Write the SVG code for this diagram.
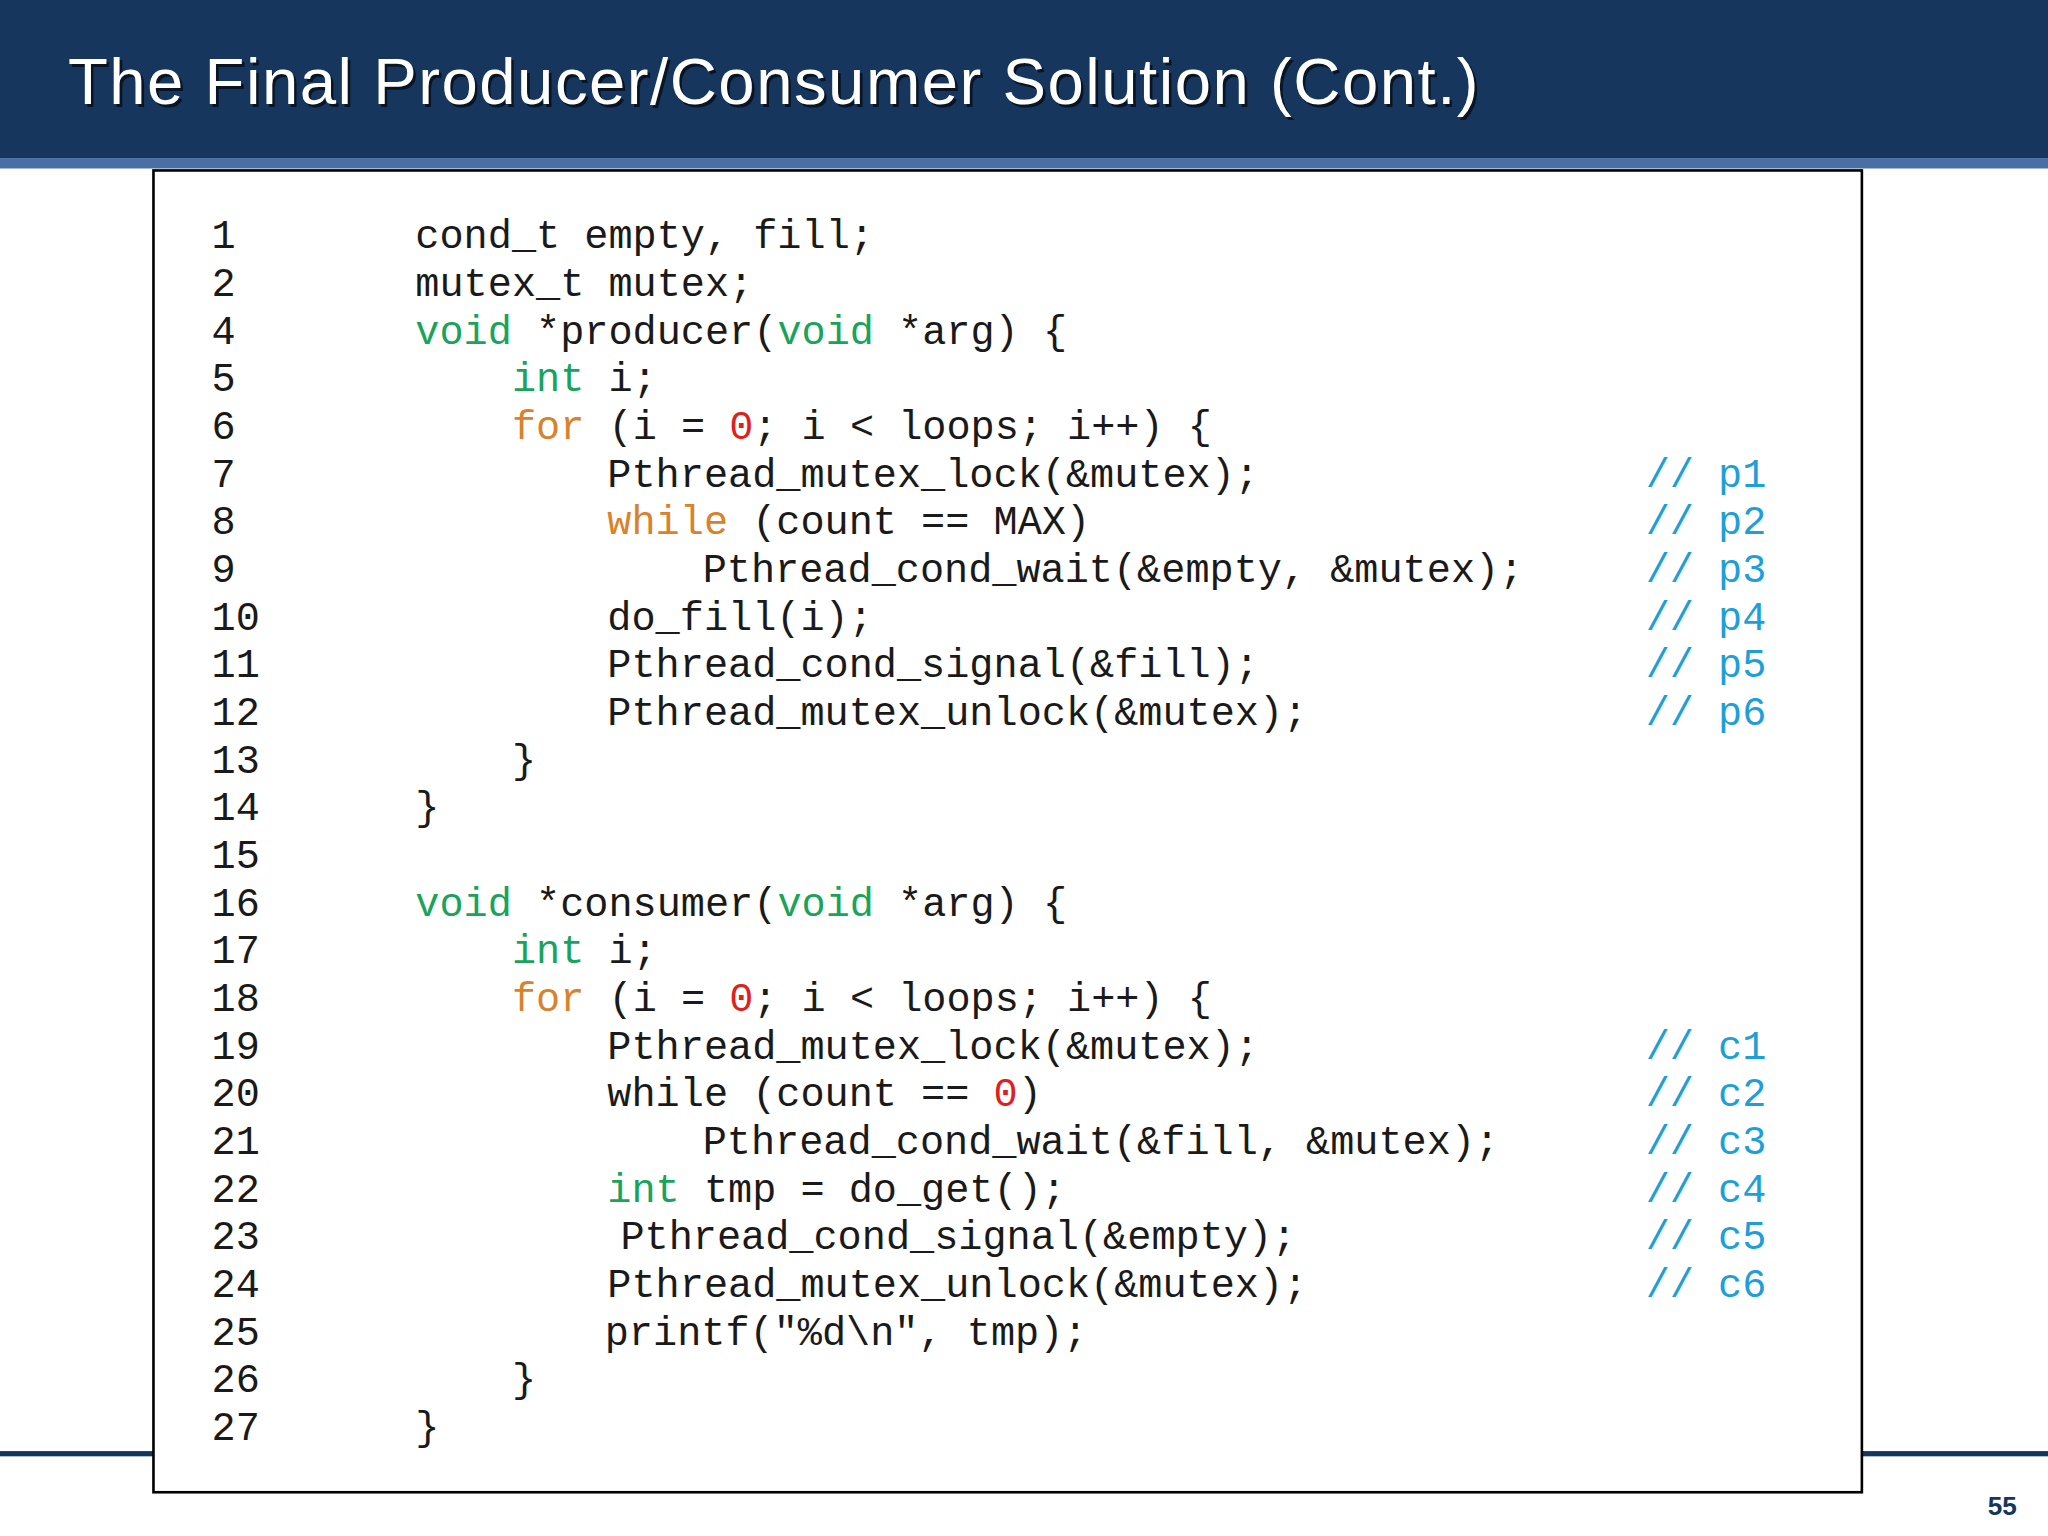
<svg xmlns="http://www.w3.org/2000/svg" width="2048" height="1536" viewBox="0 0 2048 1536">
<style>
.c{font-family:"Liberation Mono","Courier New",monospace;font-size:30.8px;fill:#1a1a1a;white-space:pre}
.k{fill:#1aa35a}.o{fill:#d9822b}.r{fill:#e02020}.m{fill:#1e9fd8}
</style>
<rect width="2048" height="1536" fill="#fff"/>
<g transform="scale(1.306122)">
<g id="header">
<rect x="0" y="0" width="1568" height="121" fill="#17365d"/>
<rect x="0" y="121" width="1568" height="8" fill="#4a6fa5"/>
<text x="54" y="82" font-family="Liberation Sans,Arial,sans-serif" font-size="50" fill="#000" opacity="0.6" textLength="1080">The Final Producer/Consumer Solution (Cont.)</text>
<text x="52" y="80" font-family="Liberation Sans,Arial,sans-serif" font-size="50" fill="#fff" textLength="1080">The Final Producer/Consumer Solution (Cont.)</text>
</g>
<g id="footer">
<rect x="0" y="1111" width="1568" height="4" fill="#17365d"/>
<text x="1533" y="1160" font-family="Liberation Sans,Arial,sans-serif" font-size="20" font-weight="bold" fill="#17365d" text-anchor="middle">55</text>
</g>
<g id="codebox">
<rect x="117.5" y="130.5" width="1308" height="1012" fill="#fff" stroke="#000" stroke-width="2"/>
<g class="c">
<text x="162" y="190">1</text><text x="318" y="190">cond_t empty, fill;</text>
<text x="162" y="226.5">2</text><text x="318" y="226.5">mutex_t mutex;</text>
<text x="162" y="263">4</text><text x="318" y="263"><tspan class="k">void</tspan> *producer(<tspan class="k">void</tspan> *arg) {</text>
<text x="162" y="299.5">5</text><text x="392" y="299.5"><tspan class="k">int</tspan> i;</text>
<text x="162" y="336">6</text><text x="392" y="336"><tspan class="o">for</tspan> (i = <tspan class="r">0</tspan>; i &lt; loops; i++) {</text>
<text x="162" y="372.5">7</text><text x="465" y="372.5">Pthread_mutex_lock(&amp;mutex);</text><text x="1260" y="372.5" class="m">// p1</text>
<text x="162" y="409">8</text><text x="465" y="409"><tspan class="o">while</tspan> (count == MAX)</text><text x="1260" y="409" class="m">// p2</text>
<text x="162" y="445.5">9</text><text x="538" y="445.5">Pthread_cond_wait(&amp;empty, &amp;mutex);</text><text x="1260" y="445.5" class="m">// p3</text>
<text x="162" y="482">10</text><text x="465" y="482">do_fill(i);</text><text x="1260" y="482" class="m">// p4</text>
<text x="162" y="518.5">11</text><text x="465" y="518.5">Pthread_cond_signal(&amp;fill);</text><text x="1260" y="518.5" class="m">// p5</text>
<text x="162" y="555">12</text><text x="465" y="555">Pthread_mutex_unlock(&amp;mutex);</text><text x="1260" y="555" class="m">// p6</text>
<text x="162" y="591.5">13</text><text x="392" y="591.5">}</text>
<text x="162" y="628">14</text><text x="318" y="628">}</text>
<text x="162" y="664.5">15</text>
<text x="162" y="701">16</text><text x="318" y="701"><tspan class="k">void</tspan> *consumer(<tspan class="k">void</tspan> *arg) {</text>
<text x="162" y="737.5">17</text><text x="392" y="737.5"><tspan class="k">int</tspan> i;</text>
<text x="162" y="774">18</text><text x="392" y="774"><tspan class="o">for</tspan> (i = <tspan class="r">0</tspan>; i &lt; loops; i++) {</text>
<text x="162" y="810.5">19</text><text x="465" y="810.5">Pthread_mutex_lock(&amp;mutex);</text><text x="1260" y="810.5" class="m">// c1</text>
<text x="162" y="847">20</text><text x="465" y="847">while (count == <tspan class="r">0</tspan>)</text><text x="1260" y="847" class="m">// c2</text>
<text x="162" y="883.5">21</text><text x="538" y="883.5">Pthread_cond_wait(&amp;fill, &amp;mutex);</text><text x="1260" y="883.5" class="m">// c3</text>
<text x="162" y="920">22</text><text x="465" y="920"><tspan class="k">int</tspan> tmp = do_get();</text><text x="1260" y="920" class="m">// c4</text>
<text x="162" y="956.5">23</text><text x="475" y="956.5">Pthread_cond_signal(&amp;empty);</text><text x="1260" y="956.5" class="m">// c5</text>
<text x="162" y="993">24</text><text x="465" y="993">Pthread_mutex_unlock(&amp;mutex);</text><text x="1260" y="993" class="m">// c6</text>
<text x="162" y="1029.5">25</text><text x="463" y="1029.5">printf("%d\n", tmp);</text>
<text x="162" y="1066">26</text><text x="392" y="1066">}</text>
<text x="162" y="1102.5">27</text><text x="318" y="1102.5">}</text>
</g>
</g>
</g>
</svg>
